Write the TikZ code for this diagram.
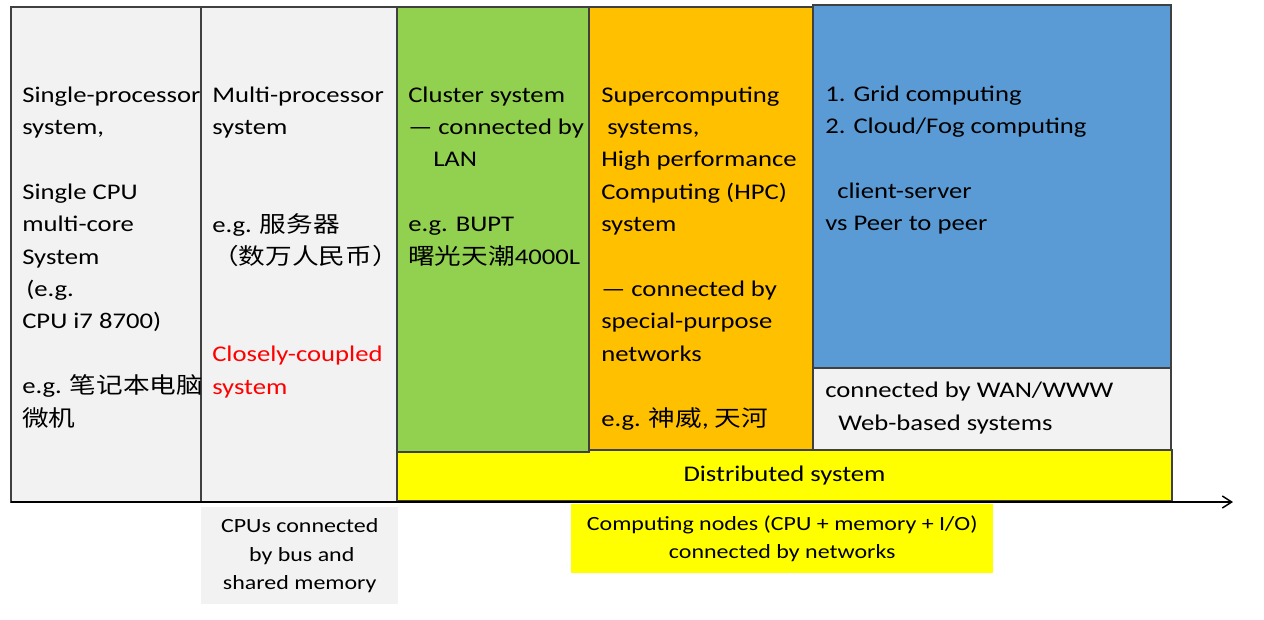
\documentclass[tikz,border=0pt]{standalone}
\usepackage{fontspec}
\setmainfont{Carlito}[FakeStretch=1.19]
\newfontfamily\cjk{Noto Sans CJK SC}[FakeStretch=1.19]
\usepackage{xcolor}
\usetikzlibrary{positioning,arrows.meta}
\definecolor{lgray}{HTML}{F2F2F2}
\definecolor{cgreen}{HTML}{92D050}
\definecolor{corange}{HTML}{FFC000}
\definecolor{cblue}{HTML}{5B9BD5}
\definecolor{cyellow}{HTML}{FFFF00}
\newcommand\mainsize{\fontsize{16.8}{24.3}\selectfont}
\newcommand\notesize{\fontsize{15.1}{21.4}\selectfont}

\begin{document}
\begin{tikzpicture}[x=0.75pt,y=-0.75pt,
  panel/.style={draw=black!75,line width=0.8pt,anchor=north west,inner sep=0pt,outer sep=0pt},
  txt/.style={anchor=base west,align=left,inner sep=0pt,font=\mainsize},
  note/.style={anchor=north west,align=center,inner sep=0pt,font=\notesize},
  axis/.style={black,line width=1.1pt,->,>={Straight Barb[length=7pt,width=9pt]}}]
\fill [white] (0,0) rectangle (1264,619);
\useasboundingbox (0,0) rectangle (1264,619);

\node[panel,fill=lgray,minimum width=142.5pt,minimum height=371.25pt] (single) at (11,7) {};
\node[panel,fill=lgray,minimum width=147pt,minimum height=371.25pt] (multi) at (201,7) {};
\node[panel,fill=cyellow,minimum width=581.25pt,minimum height=38.25pt,font=\mainsize] (dist) at (397,450) {Distributed system};
\node[panel,fill=cgreen,minimum width=144pt,minimum height=333.75pt] (cluster) at (397,7) {};
\node[panel,fill=corange,minimum width=168pt,minimum height=332.25pt] (super) at (589,7) {};
\node[panel,fill=cblue,minimum width=268.5pt,minimum height=272.25pt] (grid) at (813,5) {};
\node[panel,fill=lgray,minimum width=268.5pt,minimum height=61.5pt] (wan) at (813,368) {};

\node[txt] (singletxt) at (22,426) {Single-processor\\system,\\ \\Single CPU\\multi-core\\System\\\hspace{3pt}(e.g.\\CPU i7 8700)\\ \\e.g. {\cjk 笔记本电脑}\\{\cjk 微机}};
\node[txt] (multitxt) at (212,394) {Multi-processor\\system\\ \\ \\e.g. {\cjk 服务器}\\{\cjk （数万人民币）}\\ \\ \\\textcolor{red}{Closely-coupled}\\\textcolor{red}{system}};
\node[txt] (clustertxt) at (408,264) {Cluster system\\— connected by\\\hspace{18.75pt}LAN\\ \\e.g. BUPT\\{\cjk 曙光天潮}4000L};
\node[txt] (supertxt) at (601,426) {Supercomputing\\\hspace{4.5pt}systems,\\High performance\\Computing (HPC)\\system\\ \\— connected by\\special-purpose\\networks\\ \\e.g. {\cjk 神威}, {\cjk 天河}};
\node[txt] (gridtxt) at (825,230.6) {1. Grid computing\\2. Cloud/Fog computing\\ \\\hspace{9pt}client-server\\vs Peer to peer};
\node[txt] (wantxt) at (825,430) {connected by WAN/WWW\\\hspace{9.75pt}Web-based systems};

\node[note,fill=lgray,minimum width=147.75pt,minimum height=72.75pt] (bus) at (201,507) {CPUs connected\\\hspace{3pt}by bus and\\shared memory};
\node[note,fill=cyellow,minimum width=316.5pt,minimum height=51.75pt] (netw) at (571,504) {Computing nodes (CPU + memory + I/O)\\connected by networks};

\coordinate (org) at (11,502);
\coordinate (xend) at (1233,502);
\draw[axis] (org)--(xend);
\end{tikzpicture}
\end{document}
